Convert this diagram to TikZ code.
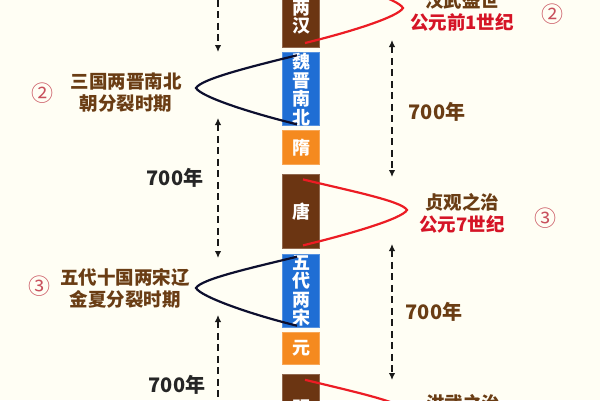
\documentclass[tikz,border=0pt]{standalone}
\usepackage{fontspec}
\setmainfont{Noto Sans CJK SC}
\usetikzlibrary{arrows.meta,calc,positioning}

\definecolor{bgcream}{HTML}{FFFEF4}
\definecolor{dynbrown}{HTML}{6B3512}
\definecolor{dynblue}{HTML}{1F6ED4}
\definecolor{dynorange}{HTML}{F58A1F}
\definecolor{txtbrown}{HTML}{6A3D14}
\definecolor{txtred}{HTML}{D51426}
\definecolor{curvered}{HTML}{EC1C24}
\definecolor{curvenavy}{HTML}{0D0F2E}
\definecolor{numpink}{HTML}{C8505C}

\tikzset{
  era/.style={fill=#1, draw=#1!75!white, line width=0.8pt, text=white, inner sep=0pt,
    minimum width=37pt, align=center, font=\fontsize{18}{18.5}\selectfont\bfseries},
  periodtext/.style={text=txtbrown, align=center, inner sep=0pt,
    font=\fontsize{18.5}{22}\selectfont\bfseries},
  ordinal/.style={text=numpink, inner sep=0pt, font=\fontsize{22}{22}\selectfont},
  yeargap/.style={line width=2.3pt, dash pattern=on 7pt off 4.5pt, black!90},
  yearlabel/.style={inner sep=0pt, font=\fontsize{20}{20}\selectfont\bfseries},
  redloop/.style={curvered, line width=2.2pt},
  navyloop/.style={curvenavy, line width=2.2pt}
}

\begin{document}
\begin{tikzpicture}[x=1pt,y=-1pt,>={Latex[length=7pt,width=6.5pt]}]

    \fill[bgcream] (0,0) rectangle (600,400);
    \useasboundingbox (0,0) rectangle (600,400);
    \clip (0,0) rectangle (600,400);

    % dynasty column
    \node[era=dynbrown, minimum height=60pt] (han) at (301,17) {两\\汉};
    \node[era=dynblue, minimum height=73pt] (wei) [below=5pt of han] {魏\\晋\\南\\北};
    \node[era=dynorange, minimum height=34pt] (sui) [below=4pt of wei] {隋};
    \node[era=dynbrown, minimum height=74pt] (tang) [below=9pt of sui] {唐};
    \node[era=dynblue, minimum height=73pt] (wudai) [below=5pt of tang] {五\\代\\两\\宋};
    \node[era=dynorange, minimum height=32pt] (yuan) [below=4pt of wudai] {元};
    \node[era=dynbrown, minimum height=66pt] (ming) [below=10pt of yuan] {明};

    % periods
    \node[periodtext] (sanguo) at (126,92.5) {三国两晋南北\\朝分裂时期};
    \node[ordinal] (numsanguo) at (42,93) {②};
    \node[periodtext] (shiguo) at (125,288.5) {五代十国两宋辽\\金夏分裂时期};
    \node[ordinal] (numshiguo) at (39,286) {③};
    \node[periodtext] (hanwu) at (462,11.5) {汉武盛世\\\textcolor{txtred}{公元前1世纪}};
    \node[ordinal] (numhanwu) at (552,14) {②};
    \node[periodtext] (zhenguan) at (462,213.5) {贞观之治\\\textcolor{txtred}{公元7世纪}};
    \node[ordinal] (numzhenguan) at (545,218) {③};
    \node[periodtext] (hongwu) at (463,403) {洪武之治};

    % loops
    \coordinate (hantip) at (403,8);
    \coordinate (weitip) at (196,88);
    \coordinate (tangtip) at (407,210);
    \coordinate (wudaitip) at (196,288);
    \coordinate (mingtip) at (407,411);

    \draw[redloop] ($(han.center)+(4,-44)$) .. controls +(45,11) and +(-5,-9) .. (hantip)
        .. controls +(-5,9) and +(45,-11) .. ($(han.center)+(4,26)$);
    \draw[navyloop] ($(wei.center)+(-4,-34)$) .. controls +(-45,11) and +(5,-9) .. (weitip)
        .. controls +(5,9) and +(-45,-11) .. ($(wei.center)+(-4,35)$);
    \draw[redloop] ($(tang.center)+(2,-32)$) .. controls +(45,11) and +(-5,-9) .. (tangtip)
        .. controls +(-5,9) and +(45,-11) .. ($(tang.center)+(2,34)$);
    \draw[navyloop] ($(wudai.center)+(-4,-34)$) .. controls +(-45,11) and +(5,-9) .. (wudaitip)
        .. controls +(5,9) and +(-45,-11) .. ($(wudai.center)+(-4,35)$);
    \draw[redloop] ($(ming.center)+(4,-28)$) .. controls +(45,11) and +(-5,-9) .. (mingtip)
        .. controls +(-5,9) and +(45,-11) .. ($(ming.center)+(4,42)$);

    % 700 years
    \coordinate (lefta) at (218,-12);  \coordinate (leftb) at (218,52);
    \coordinate (leftc) at (218,118);  \coordinate (leftd) at (218,258);
    \coordinate (lefte) at (218,315);  \coordinate (leftf) at (218,412);
    \coordinate (righta) at (392,40);  \coordinate (rightb) at (392,177);
    \coordinate (rightc) at (392,244); \coordinate (rightd) at (392,380);

    \path[yeargap] (lefta) edge[->] (leftb)
                   (leftc) edge[<->] (leftd)
                   (lefte) edge[<-] (leftf)
                   (righta) edge[<->] (rightb)
                   (rightc) edge[<->] (rightd);

    \node[yearlabel, text=black!85] (gapleftup) at (175,178) {700年};
    \node[yearlabel, text=black!85] (gapleftdown) at (177,385) {700年};
    \node[yearlabel, text=txtbrown] (gaprightup) at (437,112) {700年};
    \node[yearlabel, text=txtbrown] (gaprightdown) at (434,312) {700年};

\end{tikzpicture}
\end{document}
